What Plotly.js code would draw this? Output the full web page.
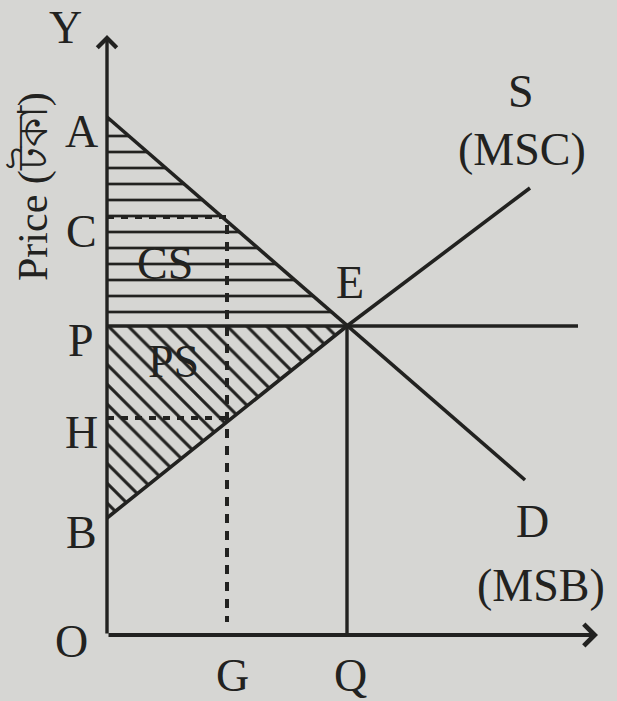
<!DOCTYPE html>
<html>
<head>
<meta charset="utf-8">
<script src="https://cdn.plot.ly/plotly-3.0.1.min.js"></script>
<style>
  html, body { margin: 0; padding: 0; background: #d6d6d3; }
  #chart { width: 617px; height: 701px; }
</style>
</head>
<body>
<div id="chart"></div>
<script>
// price levels on the Y axis
const priceNames = ['A', 'C', 'P', 'H', 'B'];
const priceValues = [51.8, 41.8, 30.9, 21.7, 11.7];

// quantities on the X axis
const qtyNames = ['O', 'G', 'Q'];
const qtyValues = [0, 12.0, 24.0];

// demand D (MSB) and supply S (MSC)
const demandX = [0, 24.0, 41.8];
const demandY = [51.8, 30.9, 15.5];
const supplyX = [0, 24.0, 42.3];
const supplyY = [11.7, 30.9, 44.7];

// equilibrium price line, axis ends
const priceLineEnd = 47.1;
const xAxisEnd = 49.1;
const yAxisEnd = 60.0;

const INK = '#222220';
const FONT = 'Liberation Serif, Times New Roman, serif';

function val(name) {
  return priceValues[priceNames.indexOf(name)];
}
function qty(name) {
  return qtyValues[qtyNames.indexOf(name)];
}

var E = [qty('Q'), val('P')];

var data = [
  // CS region (horizontal hatching)
  {
    x: [0, 0, E[0], 0],
    y: [val('A'), val('P'), E[1], val('A')],
    mode: 'lines', fill: 'toself',
    line: {width: 0, color: 'rgba(0,0,0,0)'},
    fillcolor: 'rgba(0,0,0,0)',
    fillpattern: {shape: '-', size: 16, solidity: 0.17, fgcolor: INK, bgcolor: 'rgba(0,0,0,0)'},
    hoverinfo: 'skip'
  },
  // PS region (diagonal hatching)
  {
    x: [0, 0, E[0], 0],
    y: [val('P'), val('B'), E[1], val('P')],
    mode: 'lines', fill: 'toself',
    line: {width: 0, color: 'rgba(0,0,0,0)'},
    fillcolor: 'rgba(0,0,0,0)',
    fillpattern: {shape: '\\', size: 14, solidity: 0.22, fgcolor: INK, bgcolor: 'rgba(0,0,0,0)'},
    hoverinfo: 'skip'
  },
  // dashed guides C and H
  {
    x: [0, qty('G')], y: [val('C'), val('C')],
    mode: 'lines', line: {color: INK, width: 4, dash: '7px,7px'}
  },
  {
    x: [0, qty('G')], y: [val('H'), val('H')],
    mode: 'lines', line: {color: INK, width: 4, dash: '7px,7px'}
  },
  // dashed vertical at G
  {
    x: [qty('G'), qty('G')], y: [val('C') - 0.8, 1.3],
    mode: 'lines', line: {color: INK, width: 4, dash: '9px,8px'}
  },
  // price line P
  {
    x: [0, priceLineEnd], y: [val('P'), val('P')],
    mode: 'lines', line: {color: INK, width: 3.4}
  },
  // vertical EQ
  {
    x: [qty('Q'), qty('Q')], y: [E[1], 0],
    mode: 'lines', line: {color: INK, width: 3.4}
  },
  // demand
  {
    x: demandX, y: demandY,
    mode: 'lines', line: {color: INK, width: 3.6}
  },
  // supply
  {
    x: supplyX, y: supplyY,
    mode: 'lines', line: {color: INK, width: 3.6}
  }
];

var ann = [];
function label(text, x, y, size, extra) {
  ann.push(Object.assign({
    text: text, x: x, y: y, xref: 'x', yref: 'y',
    showarrow: false, font: {family: FONT, size: size || 46, color: INK}
  }, extra || {}));
}

// axes with arrow heads
ann.push({x: 0, y: yAxisEnd, ax: 0, ay: 0, axref: 'x', ayref: 'y', xref: 'x', yref: 'y',
  text: '', showarrow: true, arrowhead: 4, arrowsize: 1.1, arrowwidth: 3.4, arrowcolor: INK});
ann.push({x: xAxisEnd, y: 0, ax: 0, ay: 0, axref: 'x', ayref: 'y', xref: 'x', yref: 'y',
  text: '', showarrow: true, arrowhead: 4, arrowsize: 1.1, arrowwidth: 3.8, arrowcolor: INK});

// price labels on the left
for (var i = 0; i < priceNames.length; i++) {
  label(priceNames[i], -2.6, priceValues[i] - 1.4);
}
label('O', -3.6, -0.6);
label('Y', -4.2, 60.8);
label('G', qty('G') + 0.5, -4.0);
label('Q', qty('Q') + 0.3, -4.0);
label('E', 24.3, 35.3);
label('CS', 5.8, 37.2);
label('PS', 6.6, 27.4);
label('S', 41.4, 54.4);
label('(MSC)', 41.5, 48.6);
label('D', 42.5, 11.4);
label('(MSB)', 43.4, 5.0);
label('Price (টকা)', -7.6, 44.8, 42, {textangle: -90});

var layout = {
  width: 617,
  height: 701,
  margin: {l: 0, r: 0, t: 0, b: 0},
  paper_bgcolor: '#d6d6d3',
  plot_bgcolor: '#d6d6d3',
  showlegend: false,
  xaxis: {range: [-10.7, 51.0], visible: false, fixedrange: true},
  yaxis: {range: [-6.6, 63.5], visible: false, fixedrange: true},
  annotations: ann
};

Plotly.newPlot('chart', data, layout, {displayModeBar: false, staticPlot: true});
</script>
</body>
</html>
